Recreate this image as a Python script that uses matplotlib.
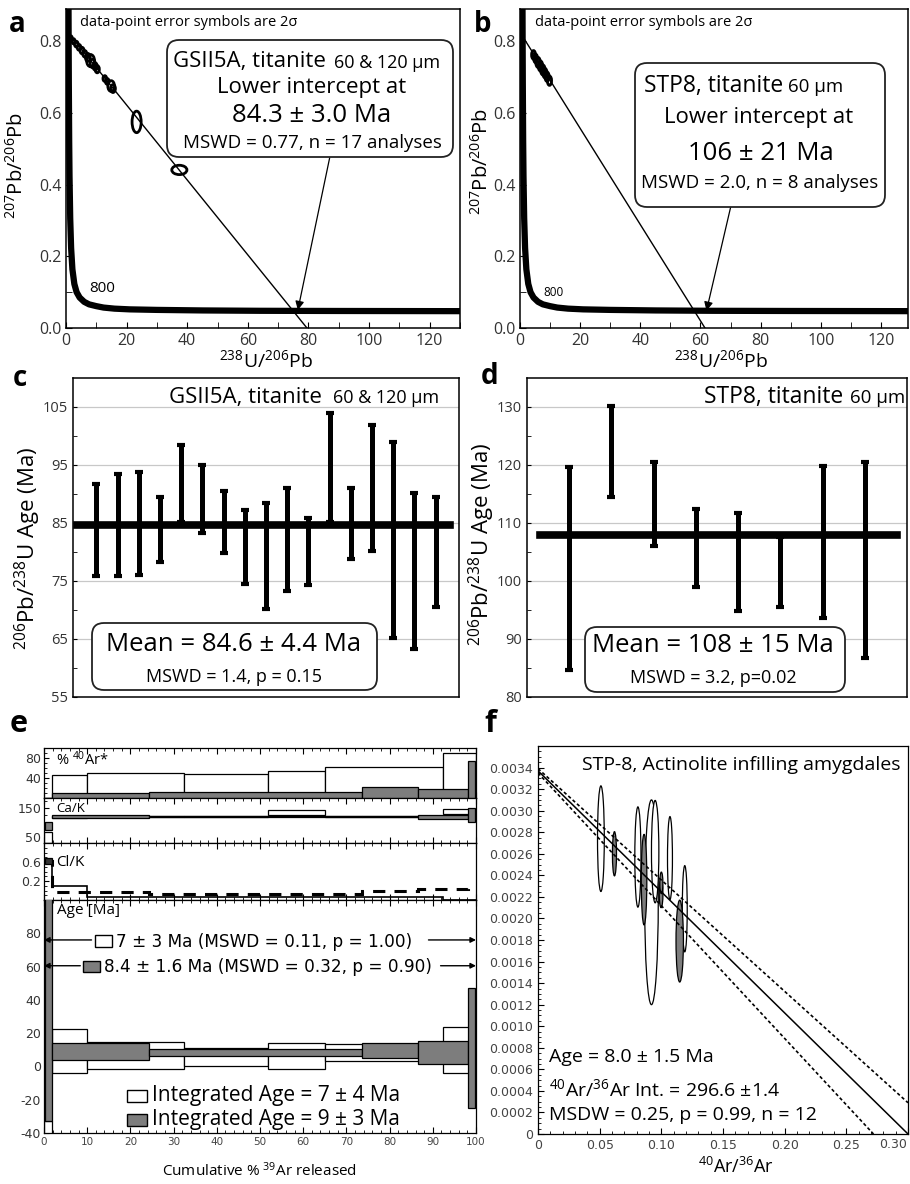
import numpy as np
import matplotlib
matplotlib.use('Agg')
import matplotlib.pyplot as plt
from matplotlib.patches import Ellipse, FancyBboxPatch, Rectangle
from matplotlib.transforms import IdentityTransform
from matplotlib.ticker import MultipleLocator, FixedLocator

plt.rcParams['font.family'] = ['Open Sans', 'DejaVu Sans']
plt.rcParams['mathtext.fontset'] = 'custom'
plt.rcParams['mathtext.rm'] = 'Open Sans'
plt.rcParams['mathtext.it'] = 'Open Sans:italic'
plt.rcParams['mathtext.bf'] = 'Open Sans:bold'
plt.rcParams['axes.linewidth'] = 1.1

# ---------------- data ----------------
# Tera-Wasserburg concordia (238U/206Pb, 207Pb/206Pb)
conc_x = [0.83, 0.853, 0.93, 1.05, 1.16, 1.39, 1.69, 2.11, 2.75, 3.5, 4.5, 6.0, 7.6,
          10.0, 12.4, 16.0, 21.0, 30.0, 45.0, 64.0, 90.0, 130.0]
conc_y = [0.905, 0.845, 0.685, 0.52, 0.425, 0.306, 0.223, 0.164, 0.123, 0.100, 0.085,
          0.073, 0.066, 0.061, 0.057, 0.054, 0.052, 0.0505, 0.049, 0.048, 0.0475, 0.047]

# panel a: GSII5A discordia + analyses
disc_a_x = [0.6, 79.5]
disc_a_y = [0.825, 0.0]
a_ell_x = [1.6, 2.5, 3.4, 4.3, 5.3, 6.2, 7.2, 8.1, 8.8, 9.6, 10.3, 12.8, 13.6, 14.9, 15.5, 23.3, 37.4]
a_ell_y = [0.808, 0.800, 0.792, 0.783, 0.774, 0.765, 0.755, 0.746, 0.738, 0.730, 0.722,
           0.696, 0.688, 0.675, 0.668, 0.575, 0.441]
a_ell_w = [1.0, 1.0, 1.2, 1.2, 1.3, 1.3, 1.6, 2.6, 1.6, 1.4, 1.4, 1.2, 1.2, 2.2, 1.6, 3.0, 5.0]
a_ell_h = [0.014, 0.014, 0.016, 0.016, 0.018, 0.018, 0.022, 0.034, 0.024, 0.02, 0.02,
           0.016, 0.016, 0.03, 0.022, 0.06, 0.026]

# panel b: STP8 discordia + analyses
disc_b_x = [0.4, 61.5]
disc_b_y = [0.82, 0.0]
b_ell_x = [4.5, 5.2, 6.0, 6.8, 7.6, 8.3, 9.0, 9.8]
b_ell_y = [0.762, 0.752, 0.741, 0.731, 0.720, 0.711, 0.701, 0.690]
b_ell_w = [1.3, 1.3, 1.5, 1.5, 1.5, 1.4, 1.4, 1.4]
b_ell_h = [0.024, 0.024, 0.028, 0.028, 0.028, 0.026, 0.026, 0.026]

# panel c: GSII5A 206Pb/238U ages (2 sigma bar ends)
c_hi = [91.8, 93.4, 93.85, 89.5, 98.4, 95.0, 90.6, 87.3, 88.4, 91.1, 85.8, 103.9, 91.1,
        101.9, 99.0, 90.1, 89.5]
c_lo = [75.9, 75.9, 76.0, 78.3, 85.2, 83.3, 79.9, 74.5, 70.1, 73.2, 74.3, 85.2, 78.8,
        80.2, 65.1, 63.3, 70.6]
c_mean = 84.6

# panel d: STP8 206Pb/238U ages
d_hi = [119.6, 130.1, 120.6, 112.5, 111.7, 107.6, 119.8, 120.6]
d_lo = [84.7, 114.5, 106.1, 98.9, 94.9, 95.5, 93.6, 86.8]
d_mean = 108.0

# panel e: Ar-Ar step heating (white = sample 1, grey = sample 2)
w_edges = [0, 1.8, 10.0, 32.5, 51.9, 65.0, 92.4, 100]
g_edges = [0.3, 1.8, 24.3, 73.5, 86.6, 98.2, 99.8]
w_rad = [0, 46, 50, 48, 54, 62, 90]
g_rad = [0, 10, 12, 22, 18, 74]
w_cak_lo = [28, 116, 117, 117, 126, 117, 129]
w_cak_hi = [68, 122, 121, 121, 143, 121, 147]
g_cak_lo = [74, 115, 117, 117, 112, 102]
g_cak_hi = [103, 124, 122, 122, 126, 150]
w_clk = [0.62, 0.09, -0.13, -0.13, -0.13, -0.13, -0.19]
g_clk = [0.62, -0.03, -0.08, 0.0, 0.04, 0.05]
w_age_lo = [-45, -4.2, -1.4, 0.2, -1.8, 3.2, -4.2]
w_age_hi = [-33, 22.2, 14.6, 10.8, 13.8, 13.2, 23.6]
g_age_lo = [-33, 4.0, 6.2, 4.8, 1.2, -25]
g_age_hi = [105, 13.8, 10.6, 14.2, 15.2, 47]
plateau_age_w = 76
plateau_age_g = 60.5

# panel f: inverse isochron
iso_x = [0, 0.300]
iso_y = [0.00337, 0.0]
env_up_x = [0, 0.30]
env_up_y = [0.00339, 0.00029]
env_lo_x = [0, 0.272]
env_lo_y = [0.00335, 0.0]
f_x = [0.051, 0.062, 0.081, 0.086, 0.092, 0.095, 0.0998, 0.100, 0.107, 0.1149, 0.119]
f_y = [0.00274, 0.00260, 0.00257, 0.00236, 0.00215, 0.00262, 0.00223, 0.00233, 0.00256,
       0.00179, 0.00209]
f_w = [0.0055, 0.0033, 0.0050, 0.0045, 0.0110, 0.0060, 0.0030, 0.0025, 0.0040, 0.0060, 0.0040]
f_h = [0.00098, 0.00041, 0.00093, 0.00084, 0.00190, 0.00095, 0.00026, 0.0002, 0.00077,
       0.00076, 0.00080]
f_grey = [False, True, False, True, False, False, True, True, False, True, False]

GREY = '#7d7d7d'

# ---------------- figure ----------------
W, H = 910, 1184
fig = plt.figure(figsize=(W / 100, H / 100), dpi=100)


def frame(l, t, r, b):
    return fig.add_axes([l / W, 1 - b / H, (r - l) / W, (b - t) / H])


def txt(x, y, s, size, **kw):
    kw.setdefault('ha', 'center')
    kw.setdefault('va', 'center')
    return fig.text(x / W, 1 - y / H, s, fontsize=size, zorder=8, **kw)


def rbox(l, t, r, b):
    fig.add_artist(FancyBboxPatch((l, H - b), r - l, b - t,
                                  boxstyle='round,pad=0,rounding_size=12',
                                  transform=IdentityTransform(), fc='white',
                                  ec='#222222', lw=1.3, zorder=7))


def square(l, t, r, b, fc):
    fig.add_artist(Rectangle((l, H - b), r - l, b - t, transform=IdentityTransform(),
                             fc=fc, ec='k', lw=1.0, zorder=8))


def tw_axes(ax, dx, dy, ex, ey, ew, eh, xmax):
    ax.plot(conc_x, conc_y, color='k', lw=4.5, zorder=3)
    ax.plot(dx, dy, color='k', lw=1.0, zorder=2)
    for x, y, w, h in zip(ex, ey, ew, eh):
        ax.add_patch(Ellipse((x, y), w, h, fc='none', ec='k', lw=2.0, zorder=4))
    ax.set_xlim(0, xmax)
    ax.set_ylim(0, 0.89)
    ax.set_xticks(range(0, 121, 20))
    ax.set_xticklabels([str(v) for v in range(0, 121, 20)])
    ax.xaxis.set_minor_locator(MultipleLocator(10))
    ax.set_yticks([0, 0.2, 0.4, 0.6, 0.8])
    ax.set_yticklabels(['0.0', '0.2', '0.4', '0.6', '0.8'])
    ax.yaxis.set_minor_locator(FixedLocator([0.1]))
    ax.tick_params(which='both', direction='in', labelsize=11.5, labelcolor='#333333')
    ax.tick_params(which='major', length=4)
    ax.tick_params(which='minor', length=4)


# ---- a ----
axa = frame(66, 9, 460, 328)
tw_axes(axa, disc_a_x, disc_a_y, a_ell_x, a_ell_y, a_ell_w, a_ell_h, 130)
axa.annotate('', xy=(76.5, 0.05), xytext=(87, 0.475),
             arrowprops=dict(arrowstyle='-|>', lw=0.9, color='k', mutation_scale=13,
                             shrinkA=0, shrinkB=0))
txt(80, 22, 'data-point error symbols are 2σ', 10.5, ha='left')
txt(102, 288, '800', 11)
rbox(167, 40, 453, 157)
txt(326, 62, 'GSII5A, titanite', 16, ha='right')
txt(334, 63, '60 & 120 μm', 13, ha='left')
txt(312, 88, 'Lower intercept at', 16)
txt(312, 116, '84.3 ± 3.0 Ma', 18.5)
txt(312, 143, 'MSWD = 0.77, n = 17 analyses', 13.5)
txt(17, 166, r'$^{207}$Pb/$^{206}$Pb', 14.5, rotation=90)
txt(266, 360, r'$^{238}$U/$^{206}$Pb', 14)
txt(17, 25, 'a', 20, weight='bold')

# ---- b ----
axb = frame(520, 9, 908, 328)
tw_axes(axb, disc_b_x, disc_b_y, b_ell_x, b_ell_y, b_ell_w, b_ell_h, 129)
axb.annotate('', xy=(62, 0.048), xytext=(71.5, 0.39),
             arrowprops=dict(arrowstyle='-|>', lw=0.9, color='k', mutation_scale=13,
                             shrinkA=0, shrinkB=0))
txt(535, 22, 'data-point error symbols are 2σ', 10.5, ha='left')
txt(553, 293, '800', 8.5)
rbox(635, 63, 885, 207)
txt(783, 86, 'STP8, titanite', 16.5, ha='right')
txt(788, 87, '60 μm', 13.5, ha='left')
txt(759, 118, 'Lower intercept at', 16)
txt(761, 153, '106 ± 21 Ma', 18.5)
txt(760, 183, 'MSWD = 2.0, n = 8 analyses', 13.5)
txt(482, 162, r'$^{207}$Pb/$^{206}$Pb', 14.5, rotation=90)
txt(721, 360, r'$^{238}$U/$^{206}$Pb', 14)
txt(483, 25, 'b', 20, weight='bold')


# ---- c / d ----
def age_axes(ax, hi, lo, mean, ylo, yhi, xmax, m0, m1):
    n = len(hi)
    xs = np.arange(1, n + 1)
    hi = np.array(hi)
    lo = np.array(lo)
    ax.set_xlim(-0.1 if n > 10 else 0, xmax)
    ax.set_ylim(ylo, yhi)
    for g in range(ylo + 10, yhi, 10):
        ax.axhline(g, color='#c8c8c8', lw=0.9, zorder=0)
    ax.errorbar(xs, lo, yerr=[np.zeros(n), hi - lo], fmt='none', ecolor='k',
                elinewidth=3.6, capsize=2.8, capthick=3.0, zorder=3)
    ax.axhline(mean, xmin=m0, xmax=m1, color='k', lw=5.5, zorder=4)
    ax.set_xticks([])
    ax.set_yticks(range(ylo, yhi, 10))
    ax.set_yticklabels([str(v) for v in range(ylo, yhi, 10)])
    ax.yaxis.set_minor_locator(FixedLocator(list(range(ylo + 5, yhi, 10))))
    ax.tick_params(axis='y', which='both', direction='in', length=3, labelsize=10.5,
                   labelcolor='#333333')


axc = frame(73, 378, 459, 697)
age_axes(axc, c_hi, c_lo, c_mean, 55, 110, 18.1, 0.01, 0.977)
txt(322, 397, 'GSII5A, titanite', 16, ha='right')
txt(333, 398, '60 & 120 μm', 13, ha='left')
rbox(92, 623, 377, 690)
txt(234, 644, 'Mean = 84.6 ± 4.4 Ma', 18.5)
txt(234, 677, 'MSWD = 1.4, p = 0.15', 13)
txt(28, 548, r'$^{206}$Pb/$^{238}$U Age (Ma)', 16, rotation=90)
txt(20, 378, 'c', 20, weight='bold')

axd = frame(527, 378, 907, 697)
age_axes(axd, d_hi, d_lo, d_mean, 80, 135, 9, 0.034, 0.974)
txt(843, 397, 'STP8, titanite', 16.5, ha='right')
txt(850, 398, '60 μm', 13.5, ha='left')
rbox(585, 627, 845, 692)
txt(713, 646, 'Mean = 108 ± 15 Ma', 18.5)
txt(713, 678, 'MSWD = 3.2, p=0.02', 13)
txt(482, 544, r'$^{206}$Pb/$^{238}$U Age (Ma)', 16, rotation=90)
txt(490, 376, 'd', 20, weight='bold')

# ---- e ----
e_rad = frame(44, 748, 476, 798)
e_cak = frame(44, 798, 476, 843)
e_clk = frame(44, 843, 476, 900)
e_age = frame(44, 900, 476, 1133)


def bars(ax, edges, lo, hi, fc, z):
    lo = np.array(lo, dtype=float)
    hi = np.array(hi, dtype=float)
    ax.bar(edges[:-1], hi - lo, np.diff(edges), bottom=lo, align='edge', fc=fc,
           ec='k', lw=0.9, zorder=z)


bars(e_rad, w_edges, [0] * len(w_rad), w_rad, 'white', 2)
bars(e_rad, g_edges, [0] * len(g_rad), g_rad, GREY, 3)
bars(e_cak, w_edges, w_cak_lo, w_cak_hi, 'white', 2)
bars(e_cak, g_edges, g_cak_lo, g_cak_hi, GREY, 3)
e_clk.stairs(w_clk, w_edges, baseline=None, color='k', lw=1.2, zorder=2)
e_clk.stairs(g_clk, g_edges, baseline=None, color='k', lw=2.2, ls=(0, (4, 3)), zorder=3)
bars(e_clk, g_edges[:2], [0.55], [0.68], '#333333', 4)
bars(e_age, w_edges, w_age_lo, w_age_hi, 'white', 2)
bars(e_age, g_edges, g_age_lo, g_age_hi, GREY, 3)

e_rad.set_ylim(0, 100)
e_rad.set_yticks([40, 80])
e_rad.set_yticklabels(['40', '80'], fontfamily='DejaVu Sans')
e_rad.yaxis.set_minor_locator(MultipleLocator(10))
e_cak.set_ylim(29, 184)
e_cak.set_yticks([50, 150])
e_cak.set_yticklabels(['50', '150'], fontfamily='DejaVu Sans')
e_cak.yaxis.set_minor_locator(MultipleLocator(25))
e_clk.set_ylim(-0.2, 1.0)
e_clk.set_yticks([0.2, 0.6])
e_clk.set_yticklabels(['0.2', '0.6'], fontfamily='DejaVu Sans')
e_clk.yaxis.set_minor_locator(MultipleLocator(0.1))
e_age.set_ylim(-40, 100)
e_age.set_yticks(range(-40, 81, 20))
e_age.set_yticklabels([str(v) for v in range(-40, 81, 20)], fontfamily='DejaVu Sans')
e_age.yaxis.set_minor_locator(MultipleLocator(5))
for ax in (e_rad, e_cak, e_clk, e_age):
    ax.set_xlim(0, 100)
    ax.set_xticks(range(0, 101, 10))
    ax.xaxis.set_minor_locator(MultipleLocator(2))
    ax.tick_params(axis='x', which='both', direction='in', top=True, bottom=True,
                   labelbottom=False)
    ax.tick_params(axis='x', which='major', length=4)
    ax.tick_params(axis='x', which='minor', length=2)
    ax.tick_params(axis='y', which='both', direction='in', labelsize=9,
                   labelcolor='#333333', pad=2)
    ax.tick_params(axis='y', which='minor', length=2)
    for s in ax.spines.values():
        s.set_linewidth(0.9)
e_age.set_xticklabels([str(v) for v in range(0, 101, 10)], fontfamily='DejaVu Sans')
e_age.tick_params(axis='x', labelbottom=True, labelsize=7.5, labelcolor='#444444', pad=3)

arrow = dict(arrowstyle='-|>', lw=1.0, color='k', mutation_scale=8, shrinkA=0, shrinkB=0)
e_age.annotate('', xy=(0, plateau_age_w), xytext=(11.0, plateau_age_w), arrowprops=arrow)
e_age.annotate('', xy=(100, plateau_age_w), xytext=(89.0, plateau_age_w), arrowprops=arrow)
e_age.annotate('', xy=(0, plateau_age_g), xytext=(8.4, plateau_age_g), arrowprops=arrow)
e_age.annotate('', xy=(100, plateau_age_g), xytext=(91.8, plateau_age_g), arrowprops=arrow)
square(95, 935, 112, 947, 'white')
txt(116, 942, '7 ± 3 Ma (MSWD = 0.11, p = 1.00)', 12.2, ha='left',
    fontfamily='DejaVu Sans')
square(83, 961, 100, 972, GREY)
txt(104, 967, '8.4 ± 1.6 Ma (MSWD = 0.32, p = 0.90)', 12.2, ha='left',
    fontfamily='DejaVu Sans')
square(127, 1090, 147, 1102, 'white')
txt(152, 1096, 'Integrated Age = 7 ± 4 Ma', 15, ha='left')
square(127, 1114, 147, 1126, GREY)
txt(152, 1120, 'Integrated Age = 9 ± 3 Ma', 15, ha='left')

txt(56, 760, r'% $^{40}$Ar*', 10.5, ha='left')
txt(56, 808, 'Ca/K', 9.5, ha='left')
txt(56, 862, 'Cl/K', 11, ha='left')
txt(57, 911, 'Age [Ma]', 11, ha='left')
txt(259, 1171, r'Cumulative % $^{39}$Ar released', 11)
txt(19, 724, 'e', 22, weight='bold')

# ---- f ----
axf = frame(538, 746, 908, 1134)
for x, y, w, h, g in zip(f_x, f_y, f_w, f_h, f_grey):
    axf.add_patch(Ellipse((x, y), w, h, fc=GREY if g else 'white', ec='k', lw=0.9,
                          zorder=4 if g else 3))
axf.plot(iso_x, iso_y, color='k', lw=1.1, zorder=5)
axf.plot(env_up_x, env_up_y, color='k', lw=1.2, ls=(0, (2, 1.5)), zorder=5)
axf.plot(env_lo_x, env_lo_y, color='k', lw=1.2, ls=(0, (2, 1.5)), zorder=5)
axf.set_xlim(0, 0.3)
axf.set_ylim(0, 0.0036)
yt = [i * 0.0002 for i in range(18)]
axf.set_yticks(yt)
axf.set_yticklabels(['0'] + [f'{v:.4f}' for v in yt[1:]], fontfamily='DejaVu Sans')
axf.yaxis.set_minor_locator(MultipleLocator(0.00005))
xt = [0, 0.05, 0.10, 0.15, 0.20, 0.25, 0.30]
axf.set_xticks(xt)
axf.set_xticklabels(['0'] + [f'{v:.2f}' for v in xt[1:-1]] + [''], fontfamily='DejaVu Sans')
axf.xaxis.set_minor_locator(MultipleLocator(0.01))
axf.tick_params(which='both', direction='in', labelsize=9, labelcolor='#444444')
axf.tick_params(which='major', length=4)
axf.tick_params(which='minor', length=2)
for s in axf.spines.values():
    s.set_linewidth(0.9)
txt(907, 1144, '0.30', 9, ha='right', color='#444444', fontfamily='DejaVu Sans')
txt(900, 765, 'STP-8, Actinolite infilling amygdales', 14, ha='right')
txt(549, 1057, 'Age = 8.0 ± 1.5 Ma', 14, ha='left')
txt(549, 1089, r'$^{40}$Ar/$^{36}$Ar Int. = 296.6 ±1.4', 14, ha='left')
txt(549, 1115, 'MSDW = 0.25, p = 0.99, n = 12', 14, ha='left')
txt(736, 1167, r'$^{40}$Ar/$^{36}$Ar', 13)
txt(490, 724, 'f', 22, weight='bold')

fig.savefig('out.png', dpi=100)
